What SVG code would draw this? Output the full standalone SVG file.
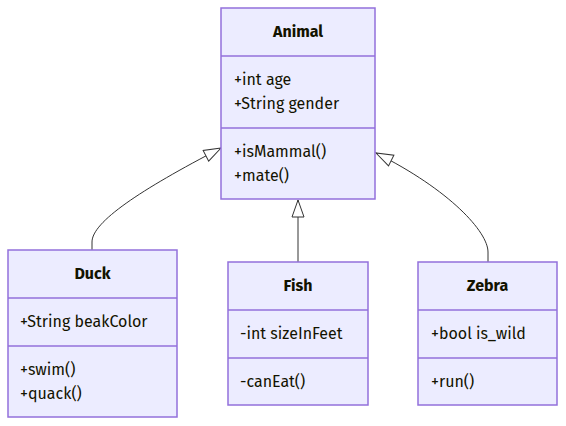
<svg xmlns="http://www.w3.org/2000/svg" width="566" height="426" viewBox="0 0 566 426">
<style>
.box{fill:#ECECFF;stroke:#9370DB;stroke-width:1.5}
.div{stroke:#9370DB;stroke-width:1.5}
text{font-family:"Fira Sans","Lato","Noto Sans",sans-serif;font-size:16px;fill:#131300}
.t{font-weight:bold;text-anchor:middle}
.edge{fill:none;stroke:#333;stroke-width:1}
</style>
<defs>
<marker id="ext" markerWidth="20" markerHeight="14" refX="18" refY="7" orient="auto" markerUnits="userSpaceOnUse">
<path d="M18,7 L1,1 L1,13 Z" fill="#fff" stroke="#333" stroke-width="1"/>
</marker>
</defs>
<g id="connectors">
<path class="edge" d="M92,250 V242 C92,222 140,190 221,148" marker-end="url(#ext)"/>
<path class="edge" d="M298,262 V200" marker-end="url(#ext)"/>
<path class="edge" d="M488,262 V252 C488,232 450,190 376,153" marker-end="url(#ext)"/>
</g>
<g id="Animal">
<rect class="box" x="221" y="8" width="154" height="191"/>
<line class="div" x1="221" y1="56" x2="375" y2="56"/>
<line class="div" x1="221" y1="128" x2="375" y2="128"/>
<text class="t" x="298" y="37">Animal</text>
<text x="234" y="85">+int age</text>
<text x="234" y="109">+String gender</text>
<text x="234" y="157">+isMammal()</text>
<text x="234" y="181">+mate()</text>
</g>
<g id="Duck">
<rect class="box" x="8" y="250" width="169" height="167"/>
<line class="div" x1="8" y1="298" x2="177" y2="298"/>
<line class="div" x1="8" y1="346" x2="177" y2="346"/>
<text class="t" x="92.5" y="279">Duck</text>
<text x="20" y="327">+String beakColor</text>
<text x="20" y="375">+swim()</text>
<text x="20" y="399">+quack()</text>
</g>
<g id="Fish">
<rect class="box" x="228" y="262" width="140" height="143"/>
<line class="div" x1="228" y1="310" x2="368" y2="310"/>
<line class="div" x1="228" y1="358" x2="368" y2="358"/>
<text class="t" x="298" y="291">Fish</text>
<text x="240" y="339">-int sizeInFeet</text>
<text x="240" y="387">-canEat()</text>
</g>
<g id="Zebra">
<rect class="box" x="418" y="262" width="139" height="143"/>
<line class="div" x1="418" y1="310" x2="557" y2="310"/>
<line class="div" x1="418" y1="358" x2="557" y2="358"/>
<text class="t" x="487.5" y="291">Zebra</text>
<text x="431" y="339">+bool is_wild</text>
<text x="431" y="387">+run()</text>
</g>
</svg>
